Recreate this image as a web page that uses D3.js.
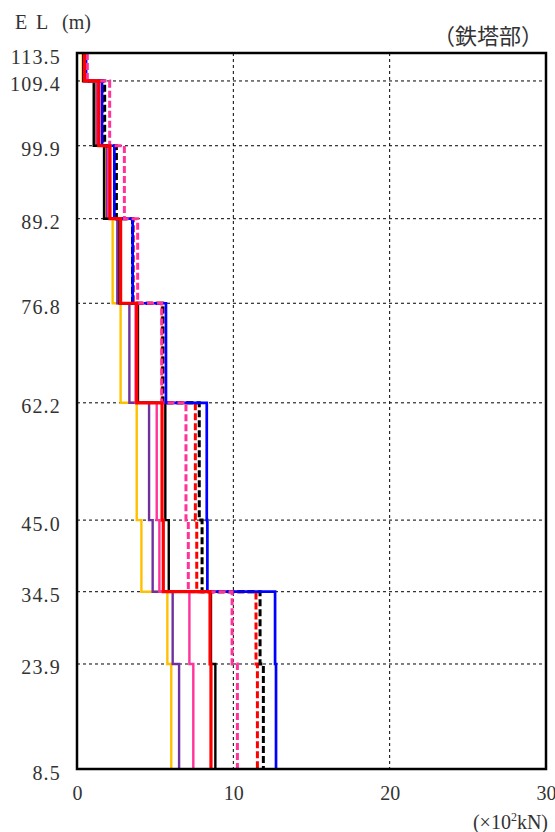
<!DOCTYPE html>
<html><head><meta charset="utf-8">
<script src="https://cdn.jsdelivr.net/npm/d3@7"></script>
<style>body{margin:0;background:#fff}</style>
</head><body>
<script>
// EL boundaries (m), top to bottom
const elevations = [113.5, 109.4, 99.9, 89.2, 76.8, 62.2, 45.0, 34.5, 23.9, 8.5];
const xTicks = [0, 10, 20, 30];
// values per segment (×10² kN), top segment first
const orangeSolid = [0.36, 1.17, 1.86, 2.28, 2.79, 3.82, 4.12, 5.78, 6.03];
const purpleSolid = [0.40, 1.25, 1.92, 2.58, 3.35, 4.61, 4.84, 6.12, 6.53];
const pinkSolid   = [0.45, 1.32, 2.00, 2.75, 3.75, 5.10, 5.27, 7.19, 7.44];
const blackSolid  = [0.40, 1.07, 1.73, 2.72, 3.90, 5.65, 5.87, 8.57, 8.85];
const redDashed   = [0.55, 1.65, 2.45, 3.60, 5.45, 7.57, 7.66, 11.45, 11.54];
const blackDashed = [0.60, 1.77, 2.52, 3.55, 5.50, 7.82, 8.00, 11.71, 11.92];
const blueSolid   = [0.58, 1.60, 2.39, 3.56, 5.69, 8.30, 8.34, 12.67, 12.73];
const pinkDashed  = [0.66, 2.09, 3.03, 3.88, 5.42, 6.97, 7.12, 9.92, 10.26];
const redSolid    = [0.47, 1.39, 2.11, 2.79, 3.82, 5.44, 5.52, 8.51, 8.57];

const series = [
  {values: orangeSolid, color: "#FFC000", w: 2.4, dash: null},
  {values: purpleSolid, color: "#7030A0", w: 2.4, dash: null},
  {values: pinkSolid,   color: "#FF3399", w: 2.4, dash: null},
  {values: blackSolid,  color: "#000000", w: 2.4, dash: null},
  {values: redDashed,   color: "#FF0000", w: 3.0, dash: "7,3"},
  {values: blackDashed, color: "#000000", w: 3.0, dash: "7,3"},
  {values: blueSolid,   color: "#0000FF", w: 2.7, dash: null},
  {values: pinkDashed,  color: "#FF3399", w: 3.0, dash: "7,3"},
  {values: redSolid,    color: "#FF0000", w: 3.2, dash: null}
];

const W = 555, H = 832;
const m = {left: 77, right: 9, top: 53, bottom: 63};
const svg = d3.select("body").append("svg").attr("width", W).attr("height", H);
const x = d3.scaleLinear().domain([0, 30]).range([m.left, W - m.right]);
const y = d3.scaleLinear().domain([8.5, 113.5]).range([H - m.bottom, m.top]);

const serif = "'Liberation Serif', 'Times New Roman', 'DejaVu Serif', serif";
const cjk = "'Noto Sans CJK JP', 'Noto Sans CJK SC', sans-serif";

// grid
const g = svg.append("g");
g.selectAll("line.h").data(elevations.slice(1, -1)).join("line")
  .attr("x1", x(0)).attr("x2", x(30)).attr("y1", d => y(d)).attr("y2", d => y(d))
  .attr("stroke", "#000").attr("stroke-width", 1).attr("stroke-dasharray", "3,3");
g.selectAll("line.v").data(xTicks.slice(1, -1)).join("line")
  .attr("x1", d => x(d)).attr("x2", d => x(d)).attr("y1", y(113.5)).attr("y2", y(8.5))
  .attr("stroke", "#000").attr("stroke-width", 1).attr("stroke-dasharray", "3,3");

// series
const line = d3.line().x(d => x(d[0])).y(d => y(d[1]));
series.forEach(s => {
  const pts = [];
  s.values.forEach((v, i) => { pts.push([v, elevations[i]]); pts.push([v, elevations[i + 1]]); });
  svg.append("path").attr("d", line(pts)).attr("fill", "none")
    .attr("stroke", s.color).attr("stroke-width", s.w)
    .attr("stroke-dasharray", s.dash).attr("stroke-linejoin", "miter");
});

// frame
svg.append("rect").attr("x", x(0)).attr("y", y(113.5)).attr("width", x(30) - x(0))
  .attr("height", y(8.5) - y(113.5)).attr("fill", "none").attr("stroke", "#000").attr("stroke-width", 2.5);

// y axis labels
const yAxis = d3.axisLeft(y).tickValues(elevations).tickSize(0).tickPadding(16).tickFormat(d3.format(".1f"));
const ya = svg.append("g").attr("transform", `translate(${x(0)},0)`).call(yAxis);
ya.select(".domain").remove();
ya.attr("font-family", null).attr("font-size", null);
ya.selectAll("text").style("font-family", serif).style("font-size", "20px").attr("fill", "#333")
  .style("letter-spacing", "1.2px").attr("dy", "0.5em");

// x axis labels
const xAxis = d3.axisBottom(x).tickValues(xTicks).tickSize(0).tickPadding(17).tickFormat(d3.format("d"));
const xa = svg.append("g").attr("transform", `translate(0,${y(8.5)})`).call(xAxis);
xa.select(".domain").remove();
xa.attr("font-family", null).attr("font-size", null);
xa.selectAll("text").style("font-family", serif).style("font-size", "20px").attr("fill", "#333");

// titles
const el = svg.append("text").attr("y", 29).style("font-family", serif).style("font-size", "20px").attr("fill", "#333");
el.append("tspan").attr("x", 15).text("E");
el.append("tspan").attr("x", 36).text("L");
el.append("tspan").attr("x", 62).text("(m)");
svg.append("text").attr("x", 543).attr("y", 44).attr("text-anchor", "end").style("font-family", cjk)
  .style("font-size", "22px").attr("fill", "#333").text("（鉄塔部）");
const u = svg.append("text").attr("x", 548).attr("y", 829).attr("text-anchor", "end")
  .style("font-family", serif).style("font-size", "20px").attr("fill", "#333");
u.append("tspan").text("(×10");
u.append("tspan").style("font-size", "12px").attr("dy", -8).text("2");
u.append("tspan").attr("dy", 8).text("kN)");
</script>
</body></html>
